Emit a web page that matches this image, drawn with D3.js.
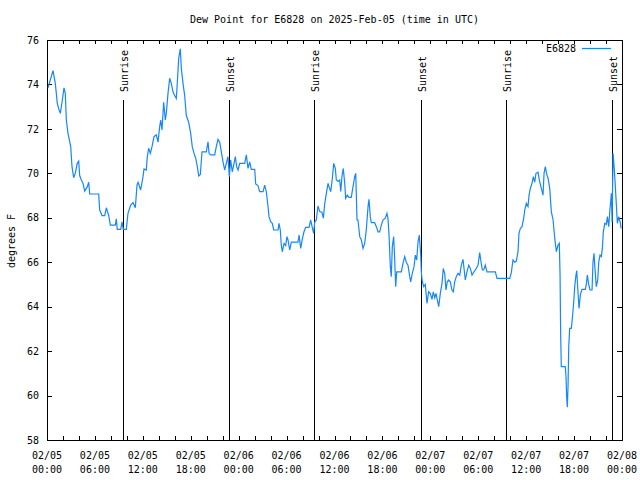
<!DOCTYPE html>
<html><head><meta charset="utf-8">
<script src="https://cdn.jsdelivr.net/npm/d3@7"></script>
<style>
body{margin:0;background:#fff;}
svg{display:block;}
text{font-family:"DejaVu Sans Mono","Liberation Mono",monospace;font-size:10px;fill:#000;}
</style></head><body>
<svg id="c" width="640" height="480"></svg>
<script>
const chartTitle = "Dew Point for E6828 on 2025-Feb-05 (time in UTC)";
const seriesName = "E6828";
const yAxisLabel = "degrees F";
const startTime = "2025-02-05T00:00:00Z";
const endTime = "2025-02-08T00:00:00Z";
const yTickValues = [58, 60, 62, 64, 66, 68, 70, 72, 74, 76];
const sunriseTimes = ["2025-02-05T09:33:00Z", "2025-02-06T09:28:00Z", "2025-02-07T09:30:00Z"];
const sunsetTimes = ["2025-02-05T22:50:00Z", "2025-02-06T22:52:00Z", "2025-02-07T22:47:00Z"];

// hours since 2025-02-05 00:00 UTC
const hours = [
 0.13,0.75,1.04,1.29,1.47,1.67,1.88,2.13,2.29,2.42,2.63,2.97,3.13,3.34,3.54,3.79,3.97,4.09,4.30,4.51,4.72,5.05,5.22,5.35,6.47,6.60,6.89,7.23,7.43,7.73,7.93,8.55,8.68,8.80,9.23,9.39,9.55,9.93,10.14,10.48,10.77,11.06,11.27,
 11.40,11.73,12.02,12.15,12.43,12.56,12.73,12.94,13.15,13.40,13.69,13.90,14.11,14.24,14.40,14.61,14.81,14.94,15.15,15.36,15.56,15.78,15.99,16.19,16.32,16.49,16.69,16.82,17.03,17.24,17.44,17.74,17.99,18.19,18.41,18.62,18.82,19.00,19.20,19.41,19.95,20.16,20.29,20.50,21.00,21.20,21.41,21.63,21.83,22.04,22.25,22.45,22.66,22.83,23.00,23.20,23.42,23.58,23.75,23.92,
 24.13,24.76,24.96,25.17,25.38,25.58,26.01,26.13,26.42,26.63,27.05,27.26,27.46,27.67,27.80,28.01,28.21,28.39,28.93,29.05,29.21,29.34,29.46,29.68,29.89,30.05,30.18,30.39,30.59,31.43,31.56,31.77,31.97,32.18,32.39,32.81,33.02,33.18,33.39,33.52,33.72,33.93,34.15,34.43,34.60,34.78,34.98,35.19,35.31,35.53,35.73,35.90,36.10,36.23,36.44,36.65,36.78,36.94,37.10,37.28,37.40,37.60,37.82,38.10,38.32,38.53,38.66,38.82,
 38.94,39.16,39.36,39.57,39.78,39.98,40.20,40.32,40.48,40.61,41.03,41.24,41.45,41.66,41.86,42.07,42.36,42.57,42.70,42.83,42.99,43.11,43.24,43.41,43.54,43.66,43.79,44.37,44.58,44.79,44.99,45.20,45.42,45.54,45.74,45.96,46.12,46.29,46.46,46.62,46.80,46.87,46.96,47.17,47.37,47.58,47.79,47.99,48.21,48.37,48.55,48.71,48.87,49.05,49.25,49.46,49.62,49.80,49.96,50.12,50.30,50.50,50.71,50.88,51.05,51.25,51.47,51.68,51.88,52.09,52.22,52.38,52.59,52.81,53.01,53.22,53.47,53.76,53.97,
 54.18,54.31,54.51,54.68,54.88,55.10,56.14,56.35,57.94,58.14,58.35,58.56,58.77,58.98,59.10,59.27,59.48,59.69,59.82,60.02,60.23,60.36,60.52,60.73,60.90,61.07,61.23,61.48,61.69,61.90,62.11,62.24,62.40,62.58,62.74,62.95,63.15,63.37,63.58,63.78,63.99,64.15,64.24,64.32,64.40,64.90,64.99,65.07,65.15,65.24,65.33,65.45,65.65,65.78,65.96,66.08,66.21,66.33,66.46,66.62,66.78,66.99,67.41,67.53,67.66,67.83,68.00,68.25,68.37,68.50,68.62,68.78,68.96,69.09,69.25,69.41,69.54,69.66,69.84,70.04,70.17,70.34,70.47,70.67,70.76,70.88,71.01,71.13,71.26,71.42,71.60,71.77,71.89
];
const dewPointF = [
 73.85,74.62,74.05,73.15,72.9,72.7,73.2,73.85,73.6,72.4,71.8,71.2,70.3,69.8,70.0,70.45,70.55,69.9,69.7,69.55,69.2,69.4,69.6,69.07,69.07,68.35,68.1,68.1,68.45,68.1,67.67,67.67,67.95,67.48,67.48,67.82,67.48,67.48,68.2,68.57,68.68,68.45,69.47,
 69.6,69.25,69.85,70.2,70.15,70.75,71.13,70.9,71.2,71.65,71.73,71.4,72.1,72.4,71.95,73.2,72.4,72.7,73.6,74.28,74.05,73.67,73.5,73.37,74.1,75.18,75.6,74.73,74.05,73.5,72.6,72.3,71.8,71.2,70.9,70.68,70.3,69.88,69.95,70.97,70.97,71.42,70.9,70.83,70.83,71.2,71.53,71.4,70.97,70.52,70.15,70.45,70.75,69.85,70.6,70.07,70.45,70.75,70.3,70.15,
 70.45,70.45,70.83,70.22,70.52,70.18,70.18,69.52,69.45,69.18,69.18,69.47,69.18,68.53,68.05,67.82,67.75,67.45,67.45,67.75,67.45,66.77,66.47,66.85,66.75,67.15,67.0,66.55,66.9,66.9,67.22,66.62,67.05,67.37,67.57,67.57,67.9,67.62,67.3,67.8,67.9,68.53,68.28,68.25,67.98,68.65,69.1,69.55,69.4,69.18,69.78,70.45,70.22,69.7,69.63,69.7,69.18,69.88,70.22,69.55,68.88,69.02,68.92,68.92,69.4,69.85,70.0,67.9,
 67.9,67.15,67.0,66.62,66.85,67.45,68.5,68.83,68.05,67.78,67.78,67.6,67.37,67.37,67.67,67.9,67.98,68.2,67.95,67.22,65.8,65.35,66.7,67.15,66.1,64.9,65.57,65.57,65.95,66.25,66.0,65.87,65.35,65.12,65.5,65.8,66.32,66.1,66.92,67.22,66.3,65.6,65.2,64.9,65.0,64.15,64.67,64.6,64.33,64.67,64.4,64.6,64.3,64.0,64.6,65.05,65.72,65.5,64.75,65.12,65.2,65.12,64.75,64.67,65.12,65.35,65.5,65.42,65.87,66.13,65.72,65.2,65.57,65.87,65.72,65.42,65.57,65.72,65.87,
 66.43,66.1,65.65,65.65,65.87,65.57,65.57,65.27,65.27,65.53,66.1,66.0,66.05,66.48,67.3,67.52,67.6,67.98,68.35,68.65,68.5,69.02,69.32,69.55,69.85,69.6,70.0,70.05,69.63,69.32,69.02,70.0,70.3,69.95,69.78,69.32,68.28,67.9,67.07,66.48,66.77,66.85,65.5,62.72,61.3,61.3,60.85,59.95,59.47,60.4,62.2,63.02,63.02,63.47,64.22,64.9,65.35,65.62,64.82,63.92,64.52,64.78,64.78,65.0,65.42,65.0,64.75,64.75,66.02,66.4,65.7,64.9,65.2,66.02,66.32,66.25,66.62,67.37,67.75,67.7,68.05,67.6,68.28,69.1,67.8,70.9,70.3,69.63,68.8,67.75,68.05,67.8,67.52
];

const M = {left: 47, right: 622, top: 40, bottom: 440};
const t0 = new Date(startTime), t1 = new Date(endTime);
const x = d3.scaleUtc().domain([t0, t1]).range([M.left, M.right]);
const y = d3.scaleLinear().domain([58, 76]).range([M.bottom, M.top]);
const data = hours.map((h, i) => ({t: new Date(t0.getTime() + h * 3600e3), v: dewPointF[i]}));

const svg = d3.select("#c");
const minorTicks = d3.utcHour.every(2).range(t0, new Date(t1.getTime() + 1));
const labelTicks = d3.utcHour.every(6).range(t0, new Date(t1.getTime() + 1));

// bottom ticks (inward)
const gb = svg.append("g").attr("transform", `translate(0,${M.bottom})`)
  .call(d3.axisBottom(x).tickValues(minorTicks).tickSizeInner(-4).tickSizeOuter(0).tickFormat(""));
// top ticks (mirror)
const gt = svg.append("g").attr("transform", `translate(0,${M.top})`)
  .call(d3.axisTop(x).tickValues(minorTicks).tickSizeInner(-4).tickSizeOuter(0).tickFormat(""));
// left y ticks
const gl = svg.append("g").attr("transform", `translate(${M.left},0)`)
  .call(d3.axisLeft(y).tickValues(yTickValues).tickSizeInner(-5).tickSizeOuter(0).tickPadding(8).tickFormat(d3.format("d")));
// right y ticks (mirror)
const gr = svg.append("g").attr("transform", `translate(${M.right},0)`)
  .call(d3.axisRight(y).tickValues(yTickValues).tickSizeInner(-5).tickSizeOuter(0).tickFormat(""));
[gb, gt, gl, gr].forEach(g => {
  g.select(".domain").remove();
  g.selectAll("line").attr("stroke", "#000").attr("shape-rendering", "crispEdges");
  g.selectAll("text").attr("font-family", null).attr("font-size", null);
});
gl.selectAll("text").attr("fill", "#000");

// x labels (two lines)
const fmtD = d3.utcFormat("%m/%d"), fmtT = d3.utcFormat("%H:%M");
const xl = svg.append("g").selectAll("text").data(labelTicks).join("text")
  .attr("text-anchor", "middle");
xl.append("tspan").attr("x", d => x(d)).attr("y", 459).text(d => fmtD(d));
xl.append("tspan").attr("x", d => x(d)).attr("y", 473).text(d => fmtT(d));

// sunrise/sunset lines
const sunEvents = sunriseTimes.map(s => ({t: new Date(s), name: "Sunrise"}))
  .concat(sunsetTimes.map(s => ({t: new Date(s), name: "Sunset"})));
svg.append("g").selectAll("line").data(sunEvents).join("line")
  .attr("x1", d => Math.round(x(d.t)) + 0.5).attr("x2", d => Math.round(x(d.t)) + 0.5)
  .attr("y1", 100).attr("y2", M.bottom).attr("stroke", "#000").attr("stroke-width", 1);
svg.append("g").selectAll("text").data(sunEvents).join("text")
  .attr("transform", d => `translate(${Math.round(x(d.t)) + 1},92) rotate(-90)`)
  .attr("text-anchor", "start").attr("dy", "0.35em").text(d => d.name);

// frame
svg.append("rect").attr("x", M.left + 0.5).attr("y", M.top + 0.5)
  .attr("width", M.right - M.left).attr("height", M.bottom - M.top)
  .attr("fill", "none").attr("stroke", "#000").attr("shape-rendering", "crispEdges");

// data line
const line = d3.line().x(d => x(d.t)).y(d => y(d.v));
svg.append("path").datum(data).attr("d", line)
  .attr("fill", "none").attr("stroke", "#1487ff").attr("stroke-width", 1.2);

// title
svg.append("text").attr("x", (M.left + M.right) / 2).attr("y", 23)
  .attr("text-anchor", "middle").text(chartTitle);
// y label
svg.append("text").attr("transform", "translate(11,241) rotate(-90)")
  .attr("text-anchor", "middle").attr("dy", "0.35em").text(yAxisLabel);
// legend
svg.append("text").attr("x", 576).attr("y", 52).attr("text-anchor", "end").text(seriesName);
svg.append("line").attr("x1", 582).attr("x2", 611).attr("y1", 48.5).attr("y2", 48.5)
  .attr("stroke", "#1487ff").attr("stroke-width", 1.2);
</script>
</body></html>
